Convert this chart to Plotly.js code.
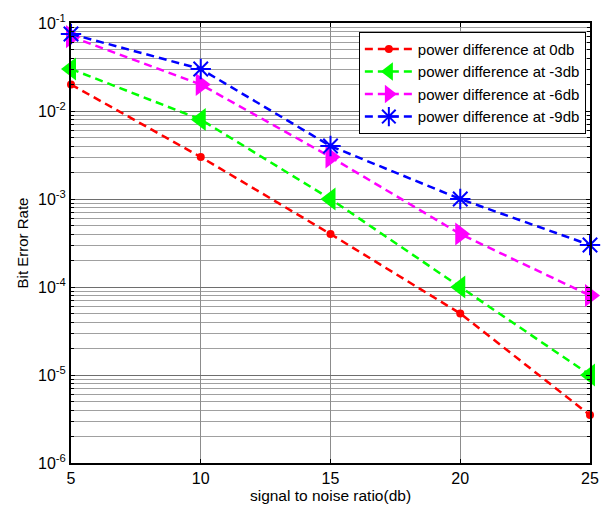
<!DOCTYPE html>
<html>
<head>
<meta charset="utf-8">
<script src="https://cdn.plot.ly/plotly-3.0.1.min.js"></script>
<style>html,body{margin:0;padding:0;background:#fff;}#chart{width:606px;height:509px;}</style>
</head>
<body>
<div id="chart"></div>
<script>
const snr = [5, 10, 15, 20, 25];
const ber0 = [2e-2, 3e-3, 4e-4, 5e-5, 3.5e-6];
const ber3 = [3e-2, 8e-3, 1e-3, 1e-4, 1e-5];
const ber6 = [7e-2, 2e-2, 3e-3, 4e-4, 8e-5];
const ber9 = [7.5e-2, 3e-2, 4e-3, 1e-3, 3e-4];
const names = ['power difference at 0db', 'power difference at -3db', 'power difference at -6db', 'power difference at -9db'];
const yTickVals = [1e-6, 1e-5, 1e-4, 1e-3, 1e-2, 1e-1];
const yTickText = ['10<sup>-6</sup>', '10<sup>-5</sup>', '10<sup>-4</sup>', '10<sup>-3</sup>', '10<sup>-2</sup>', '10<sup>-1</sup>'];
const xTickVals = [5, 10, 15, 20, 25];

function tr(y, name, color, symbol, size, lw) {
  return {
    x: snr, y: y, name: name, type: 'scatter', mode: 'lines+markers',
    line: {color: color, width: 2.5, dash: '8px,5px'},
    marker: {color: color, symbol: symbol, size: size, line: {color: color, width: lw}},
    cliponaxis: false
  };
}
const data = [
  tr(ber0, names[0], '#ff0000', 'circle', 8, 0),
  tr(ber3, names[1], '#00ff00', 'triangle-left', 20, 0),
  tr(ber6, names[2], '#ff00ff', 'triangle-right', 20, 0),
  tr(ber9, names[3], '#0000ff', 'asterisk-open', 17, 2)
];
const layout = {
  width: 606, height: 509,
  margin: {l: 71, r: 16, t: 23, b: 46},
  paper_bgcolor: '#fff', plot_bgcolor: '#fff',
  font: {family: 'Liberation Sans, Arial, sans-serif', size: 15, color: '#000'},
  showlegend: true,
  legend: {
    x: 0.992, y: 0.98, xanchor: 'right', yanchor: 'top',
    bgcolor: '#fff', bordercolor: '#000', borderwidth: 1,
    font: {size: 15}, tracegroupgap: 0, itemwidth: 48
  },
  xaxis: {
    range: [5, 25], tickvals: xTickVals, ticktext: xTickVals.map(String),
    showline: true, linecolor: '#000', linewidth: 2, mirror: 'ticks',
    ticks: 'inside', ticklen: 4, tickcolor: '#000',
    showgrid: true, gridcolor: '#8c8c8c', gridwidth: 1, zeroline: false,
    title: {text: 'signal to noise ratio(db)', font: {size: 15.5}, standoff: 4},
    tickfont: {size: 16}
  },
  yaxis: {
    type: 'log', range: [-6, -1],
    tickvals: yTickVals, ticktext: yTickText,
    showline: true, linecolor: '#000', linewidth: 2, mirror: 'ticks',
    ticks: 'inside', ticklen: 4, tickcolor: '#000',
    showgrid: true, gridcolor: '#6e6e6e', gridwidth: 1, zeroline: false,
    minor: {dtick: 'D1', showgrid: true, gridcolor: '#a0a0a0', gridwidth: 1, ticks: 'inside', ticklen: 3, tickcolor: '#000'},
    title: {text: 'Bit Error Rate', font: {size: 15}, standoff: 6},
    tickfont: {size: 16}
  }
};
Plotly.newPlot('chart', data, layout, {displayModeBar: false, staticPlot: true});
</script>
</body>
</html>
